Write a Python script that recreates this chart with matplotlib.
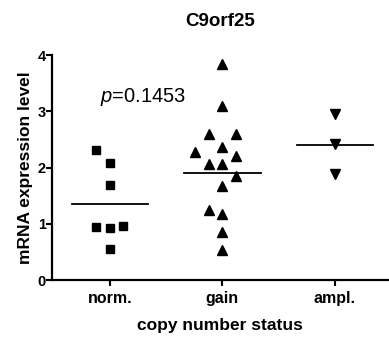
import matplotlib

matplotlib.use("Agg")
import matplotlib.pyplot as plt
import numpy as np

plt.rcParams["font.family"] = ["Liberation Sans", "DejaVu Sans"]
plt.rcParams["mathtext.fontset"] = "custom"
plt.rcParams["mathtext.it"] = "Liberation Sans:italic"
plt.rcParams["mathtext.rm"] = "Liberation Sans"

GROUPS = ["norm.", "gain", "ampl."]
MARKERS = ["s", "^", "v"]

# (x offset within group, value)
NORM_OFFSETS = [-0.12, 0.0, 0.0, -0.12, 0.0, 0.12, 0.0]
NORM_VALUES = [2.31, 2.09, 1.69, 0.95, 0.92, 0.96, 0.56]

GAIN_OFFSETS = [0.0, 0.0, -0.12, 0.12, 0.0, -0.24, 0.12, -0.12, 0.0, 0.12,
                0.0, -0.12, 0.0, 0.0, 0.0]
GAIN_VALUES = [3.84, 3.10, 2.60, 2.60, 2.37, 2.27, 2.21, 2.07, 2.07, 1.85,
               1.67, 1.24, 1.18, 0.86, 0.53]

AMPL_OFFSETS = [0.0, 0.0, 0.0]
AMPL_VALUES = [2.96, 2.42, 1.88]

GROUP_MEANS = [1.35, 1.91, 2.41]
P_TEXT = "=0.1453"

fig = plt.figure(figsize=(3.89, 3.40), dpi=100)
ax = fig.add_axes([0.134, 0.176, 0.863, 0.662])

series = [
    (NORM_OFFSETS, NORM_VALUES),
    (GAIN_OFFSETS, GAIN_VALUES),
    (AMPL_OFFSETS, AMPL_VALUES),
]
sizes = [5.2, 7, 7]
for idx, (offsets, values) in enumerate(series):
    xs = idx + np.array(offsets)
    ax.plot(xs, values, linestyle="none", marker=MARKERS[idx],
            markersize=sizes[idx], color="black", clip_on=False)
    ax.plot([idx - 0.34, idx + 0.34], [GROUP_MEANS[idx]] * 2,
            color="black", linewidth=1.3)

ax.set_xlim(-0.513, 2.47)
ax.set_ylim(0, 4)
ax.set_xticks(range(len(GROUPS)))
ax.set_xticklabels(GROUPS, fontsize=11.5, fontweight="bold")
ax.set_yticks([0, 1, 2, 3, 4])
ax.set_yticklabels(["0", "1", "2", "3", "4"], fontsize=10.5, fontweight="bold")
ax.tick_params(axis="both", direction="out", length=4, width=1.5)
ax.tick_params(axis="y", pad=0.5)
ax.tick_params(axis="x", pad=3.5)

for side in ("top", "right"):
    ax.spines[side].set_visible(False)
for side in ("left", "bottom"):
    ax.spines[side].set_linewidth(1.6)

ax.set_xlabel("copy number status", fontsize=12.5, fontweight="bold", labelpad=9)
ax.set_ylabel("mRNA expression level", fontsize=12.5, fontweight="bold", labelpad=3)
ax.set_title("C9orf25", fontsize=13.5, fontweight="bold", pad=21)

ax.text(-0.09, 3.25, "$p$" + P_TEXT, fontsize=14.5, ha="left", va="center")

fig.savefig("out.png", dpi=100)
